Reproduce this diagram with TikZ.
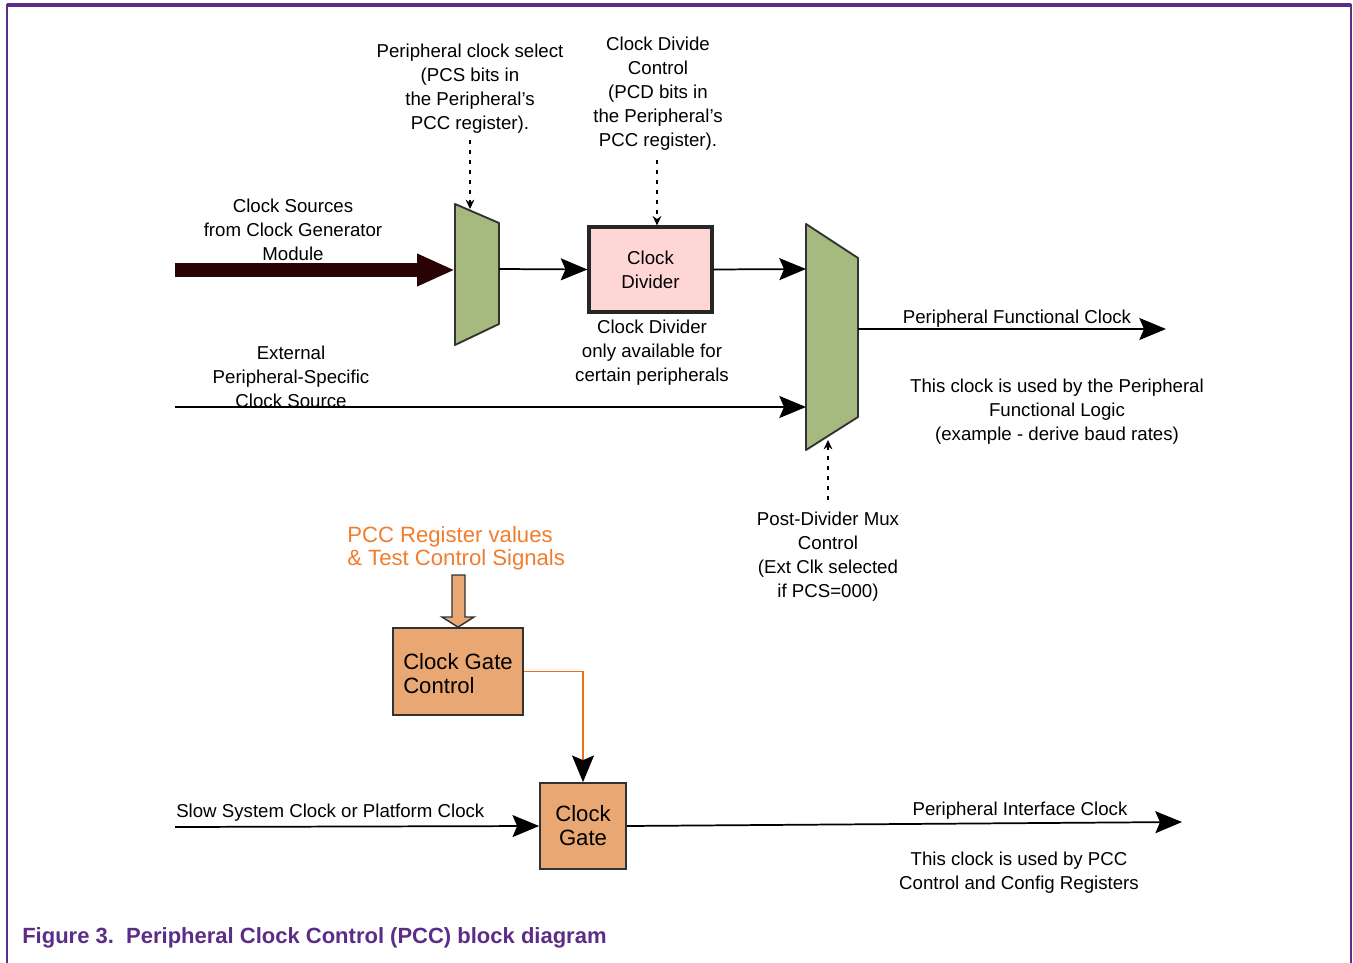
\documentclass[tikz,border=0pt]{standalone}
\usepackage{fontspec}
\setmainfont{Liberation Sans}
\usetikzlibrary{arrows.meta}
\definecolor{framec}{RGB}{92,45,135}
\definecolor{muxgreen}{RGB}{166,186,128}
\definecolor{divpink}{RGB}{255,214,214}
\definecolor{gatefill}{RGB}{233,167,116}
\definecolor{orangetxt}{RGB}{240,125,45}
\definecolor{orangeln}{RGB}{240,110,20}
\definecolor{darkarrow}{RGB}{42,4,4}
\definecolor{edgegray}{RGB}{50,50,50}
\tikzset{
  lbl/.style={font=\fontsize{14}{18}\selectfont, align=center, inner sep=0pt},
  bigarrow/.style={-{Stealth[length=20pt,width=16.5pt,inset=3.5pt]}, line width=1.3pt},
  dotarrow/.style={-{Stealth[length=7pt,width=6.5pt]}, line width=1.3pt, dash pattern=on 3pt off 4.5pt},
  muxshape/.style={fill=muxgreen, draw=edgegray, line width=1.4pt, line join=round},
  gatebox/.style={draw=edgegray, fill=gatefill, line width=1.3pt, inner sep=0pt,
    font=\fontsize{16.6}{18}\selectfont},
}
\begin{document}
\begin{tikzpicture}[x=0.75pt,y=-0.75pt]
\useasboundingbox (0,0) rectangle (1353,963);
% frame
\draw[framec, line width=1.6pt] (7,963) -- (7,5) -- (1351,5) -- (1351,963);
\draw[framec, line width=2.4pt] (7,5) -- (1351,5);

% muxes
\draw[muxshape] (455,204) -- (499,223) -- (499,324) -- (455,345) -- cycle;
\coordinate (m1in) at (455,270);
\coordinate (m1out) at (499,269);
\coordinate (m1top) at (470,209);
\draw[muxshape] (806,224) -- (858,258) -- (858,417) -- (806,450) -- cycle;
\coordinate (m2a) at (806,269);
\coordinate (m2b) at (806,407);
\coordinate (m2out) at (858,329);
\coordinate (m2bot) at (828,440);

% clock divider
\node[draw=black!85, fill=divpink, line width=2.4pt, minimum width=92.25pt, minimum height=63.75pt,
      lbl, font=\fontsize{14}{18}\selectfont] (div) at (650.5,269.5) {Clock\\Divider};

% labels
\node[lbl] (pcs) at (470,88.5) {Peripheral clock select\\(PCS bits in\\the Peripheral's\\PCC register).};
\node[lbl] (pcd) at (658,93.5) {Clock Divide\\Control\\(PCD bits in\\the Peripheral's\\PCC register).};
\node[lbl] (srcs) at (293,230) {Clock Sources\\from Clock Generator\\Module};
\node[lbl] (divnote) at (652,352.5) {Clock Divider\\only available for\\certain peripherals};
\node[lbl] (ext) at (291,376.5) {External\\Peripheral-Specific\\Clock Source};
\node[lbl] (pfc) at (1017,319) {Peripheral Functional Clock};
\node[lbl] (pfcnote) at (1057,411.5) {This clock is used by the Peripheral\\Functional Logic\\(example - derive baud rates)};
\node[lbl] (pdm) at (828,556.5) {Post-Divider Mux\\Control\\(Ext Clk selected\\if PCS=000)};
\node[lbl, anchor=west, align=left, text=orangetxt, font=\fontsize{16.6}{17.3}\selectfont] (pccv) at (347,548.5) {PCC Register values\\\& Test Control Signals};
\node[lbl, anchor=west] (slow) at (176,813) {Slow System Clock or Platform Clock};
\node[lbl] (pic) at (1020,811) {Peripheral Interface Clock};
\node[lbl] (picnote) at (1019,873) {This clock is used by PCC\\Control and Config Registers};
\node[anchor=west, inner sep=0pt, text=framec, font=\bfseries\fontsize{16.5}{18}\selectfont] (cap) at (22,938) {Figure 3.\ \ Peripheral Clock Control (PCC) block diagram};

% gate boxes
\node[gatebox, minimum width=97.5pt, minimum height=65.25pt, align=left] (cgc) at (458,671.5) {\rule{0pt}{15pt}Clock Gate\\Control};
\node[gatebox, minimum width=64.5pt, minimum height=64.5pt, align=center] (cg) at (583,826) {Clock\\Gate};

% coordinates for free ends
\coordinate (srcstart) at (175,270);
\coordinate (extstart) at (175,407);
\coordinate (pfcend) at (1166,329);
\coordinate (slowstart) at (175,827);
\coordinate (picend) at (1182,822);
\coordinate (pcsdot) at (470,140);
\coordinate (pcddot) at (657,160);
\coordinate (pdmdot) at (828,500);

% fat dark arrow
\draw[darkarrow, line width=10.5pt, -{Triangle[length=28.5pt,width=22.5pt]}] (srcstart) -- (m1in);

% connectors
\draw[bigarrow] (m1out) -- (div.west);
\draw[bigarrow] (div.east) -- (m2a);
\draw[bigarrow] (extstart) -- (m2b);
\draw[bigarrow] (m2out) -- (pfcend);
\draw[bigarrow] (slowstart) -- (cg.west);
\draw[bigarrow] (cg.east) -- (picend);

% dotted control arrows
\draw[dotarrow] (pcsdot) -- (m1top);
\draw[dotarrow] (pcddot) -- (pcddot |- div.north);
\draw[dotarrow] (pdmdot) -- (m2bot);

% fat orange arrow into clock gate control
\draw[fill=gatefill, draw=edgegray, line width=1.1pt, line join=miter]
  (452,575) -- (465,575) -- (465,617) -- (474,617) -- (cgc.north) -- (442,617) -- (452,617) -- cycle;

% orange control line
\draw[orangeln, line width=1.2pt, -{Stealth[length=20pt,width=16.5pt,inset=3.5pt,color=black]}]
  (cgc.east) -| (cg.north);
\end{tikzpicture}
\end{document}
